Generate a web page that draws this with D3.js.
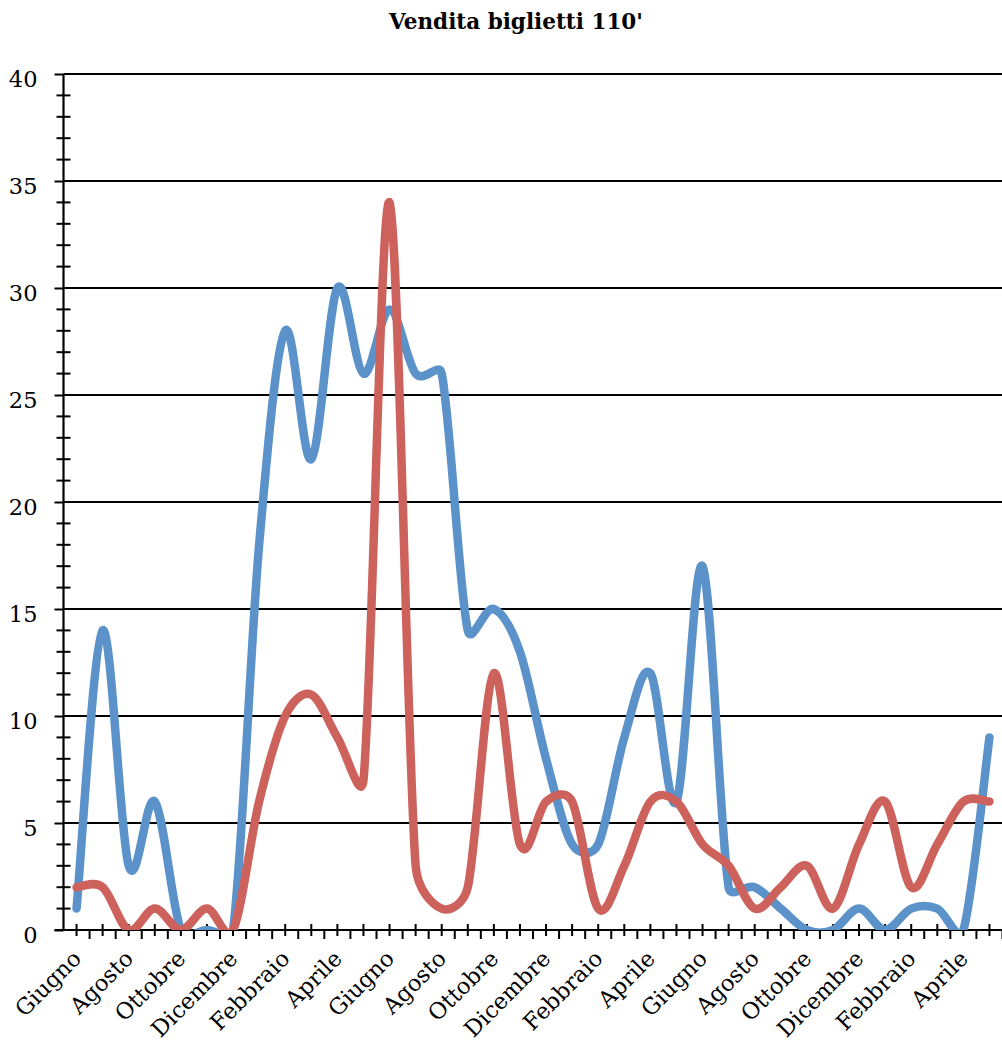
<!DOCTYPE html>
<html>
<head>
<meta charset="utf-8">
<script src="https://cdn.jsdelivr.net/npm/d3@7"></script>
<style>
  html, body { margin: 0; padding: 0; background: #fff; }
  svg { display: block; }
</style>
</head>
<body>
<svg id="chart" width="1002" height="1042"></svg>
<script>
const title = "Vendita biglietti 110'";
const categories = [
  "Giugno","Luglio","Agosto","Settembre","Ottobre","Novembre","Dicembre","Gennaio","Febbraio","Marzo","Aprile","Maggio",
  "Giugno","Luglio","Agosto","Settembre","Ottobre","Novembre","Dicembre","Gennaio","Febbraio","Marzo","Aprile","Maggio",
  "Giugno","Luglio","Agosto","Settembre","Ottobre","Novembre","Dicembre","Gennaio","Febbraio","Marzo","Aprile","Maggio"
];
const seriesBlue = [1,14,3,6,0,0,0,18,28,22,30,26,29,26,26,14,15,13,8,4,4,9,12,6,17,2,2,1,0,0,1,0,1,1,0,9];
const seriesRed  = [2,2,0,1,0,1,0,6,10,11,9,7,34,3,1,2,12,4,6,6,1,3,6,6,4,3,1,2,3,1,4,6,2,4,6,6];
const yTicks = [0,5,10,15,20,25,30,35,40];
const yMinorTicks = d3.range(0, 41, 1).filter(v => v % 5 !== 0);

const svg = d3.select("#chart");
const pLeft = 63.5, pRight = 1002.5, pTop = 74, pBottom = 930;

const x = d3.scalePoint().domain(d3.range(categories.length)).range([pLeft, pRight]).padding(0.5);
const step = x.step();
const y = d3.scaleLinear().domain([0, 40]).range([pBottom, pTop]);

// title
svg.append("text")
  .attr("x", 516).attr("y", 29)
  .attr("text-anchor", "middle")
  .attr("font-family", "DejaVu Serif")
  .attr("font-weight", "bold")
  .attr("font-size", 21.5)
  .text(title);

// gridlines
svg.append("g").selectAll("line").data(yTicks.filter(v => v > 0)).join("line")
  .attr("x1", pLeft).attr("x2", 1002)
  .attr("y1", d => y(d)).attr("y2", d => y(d))
  .attr("stroke", "#000").attr("stroke-width", 1.8);

// y axis with labels and major ticks
const yAxis = d3.axisLeft(y).tickValues(yTicks).tickSize(9).tickPadding(17).tickFormat(d3.format("d"));
const gy = svg.append("g").attr("transform", `translate(${pLeft},0)`).call(yAxis);
gy.select(".domain").remove();
gy.selectAll(".tick line").attr("stroke", "#000").attr("stroke-width", 2);
gy.selectAll(".tick text")
  .attr("font-family", "DejaVu Serif").attr("font-size", 22.5).attr("fill", "#000").attr("dy", "0.55em");
svg.append("line").attr("x1", pLeft).attr("x2", pLeft).attr("y1", pTop).attr("y2", pBottom)
  .attr("stroke", "#000").attr("stroke-width", 2.2);
// y minor ticks (cross)
svg.append("g").selectAll("line").data(yMinorTicks).join("line")
  .attr("x1", pLeft - 7).attr("x2", pLeft + 7)
  .attr("y1", d => y(d)).attr("y2", d => y(d))
  .attr("stroke", "#000").attr("stroke-width", 2);

// x axis line
svg.append("line").attr("x1", pLeft - 9).attr("x2", 1002).attr("y1", pBottom).attr("y2", pBottom)
  .attr("stroke", "#000").attr("stroke-width", 2.2);
// x ticks: crossing at category centers, outside at boundaries
svg.append("g").selectAll("line").data(d3.range(categories.length)).join("line")
  .attr("x1", d => x(d)).attr("x2", d => x(d))
  .attr("y1", pBottom - 6).attr("y2", pBottom + 6)
  .attr("stroke", "#000").attr("stroke-width", 2);
svg.append("g").selectAll("line").data(d3.range(1, categories.length + 1)).join("line")
  .attr("x1", d => x(d - 1) + step / 2).attr("x2", d => x(d - 1) + step / 2)
  .attr("y1", pBottom).attr("y2", pBottom + 9)
  .attr("stroke", "#000").attr("stroke-width", 2);

// x labels (every other category)
svg.append("g").selectAll("text").data(d3.range(0, categories.length, 2)).join("text")
  .attr("transform", d => `translate(${x(d) + 6},${pBottom + 30}) rotate(-45)`)
  .attr("text-anchor", "end")
  .attr("font-family", "DejaVu Serif").attr("font-size", 22.5).attr("fill", "#000")
  .text(d => categories[d]);

// clip
svg.append("defs").append("clipPath").attr("id", "plotclip")
  .append("rect").attr("x", pLeft).attr("y", 0).attr("width", 1002 - pLeft).attr("height", pBottom);

// Excel-style smoothed line: Catmull-Rom Bezier (1/6) with control arms clamped to half the segment
function smoothPath(values) {
  const pts = values.map((v, i) => [x(i), y(v)]);
  const n = pts.length;
  const p = d3.path();
  const dist = (a, b) => Math.hypot(b[0] - a[0], b[1] - a[1]);
  p.moveTo(pts[0][0], pts[0][1]);
  for (let i = 0; i < n - 1; i++) {
    const p0 = pts[Math.max(i - 1, 0)], p1 = pts[i], p2 = pts[i + 1], p3 = pts[Math.min(i + 2, n - 1)];
    const d12 = dist(p1, p2);
    const d02 = dist(p0, p2), d13 = dist(p1, p3);
    let f1 = 1 / 6, f2 = 1 / 6;
    if (d02 > 0 && d02 * f1 > d12 / 2) f1 = (d12 / 2) / d02;
    if (d13 > 0 && d13 * f2 > d12 / 2) f2 = (d12 / 2) / d13;
    const c1 = [p1[0] + (p2[0] - p0[0]) * f1, p1[1] + (p2[1] - p0[1]) * f1];
    const c2 = [p2[0] - (p3[0] - p1[0]) * f2, p2[1] - (p3[1] - p1[1]) * f2];
    p.bezierCurveTo(c1[0], c1[1], c2[0], c2[1], p2[0], p2[1]);
  }
  return p.toString();
}

const gl = svg.append("g").attr("clip-path", "url(#plotclip)");
gl.append("path").attr("d", smoothPath(seriesBlue))
  .attr("fill", "none").attr("stroke", "#5B92CA").attr("stroke-width", 8.5)
  .attr("stroke-linecap", "round").attr("stroke-linejoin", "round");
gl.append("path").attr("d", smoothPath(seriesRed))
  .attr("fill", "none").attr("stroke", "#CD615B").attr("stroke-width", 8.5)
  .attr("stroke-linecap", "round").attr("stroke-linejoin", "round");
</script>
</body>
</html>
